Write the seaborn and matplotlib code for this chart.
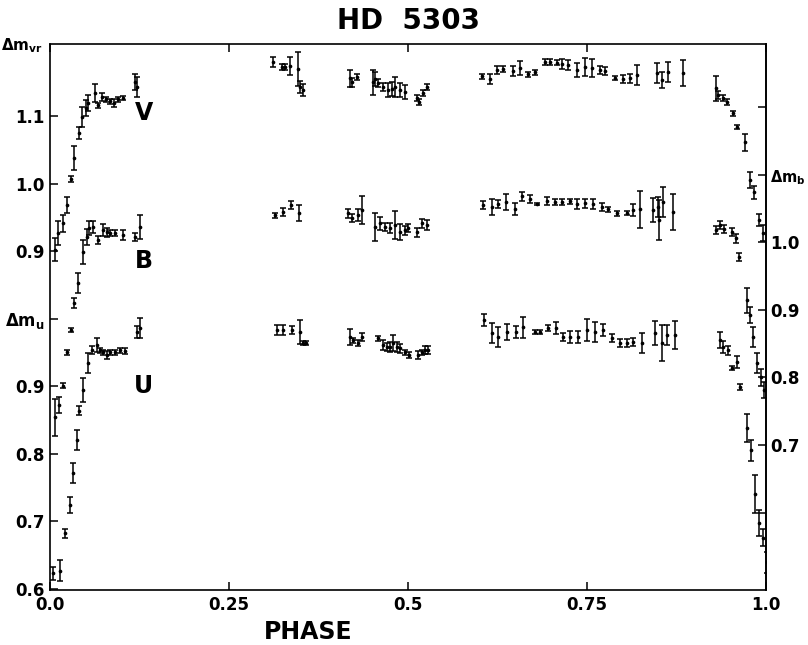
import numpy as np
import pandas as pd
import seaborn as sns
import matplotlib
matplotlib.use("Agg")
import matplotlib.pyplot as plt

# V band: phase, magnitude, error
v_phase = [0.007, 0.011, 0.018, 0.024, 0.029, 0.034, 0.041, 0.045, 0.050, 0.053,
           0.063, 0.067, 0.073, 0.078, 0.084, 0.089, 0.095, 0.102, 0.119, 0.122,
           0.311, 0.324, 0.328, 0.335, 0.346, 0.349, 0.353,
           0.419, 0.422, 0.429, 0.451, 0.454, 0.458, 0.465, 0.472, 0.478, 0.482,
           0.489, 0.496, 0.513, 0.515, 0.521, 0.527,
           0.603, 0.615, 0.624, 0.633, 0.647, 0.656, 0.668, 0.677, 0.691, 0.698,
           0.708, 0.715, 0.723, 0.736, 0.747, 0.757, 0.768, 0.775, 0.789, 0.800,
           0.810, 0.820, 0.848, 0.855, 0.863, 0.884,
           0.930, 0.933, 0.940, 0.946, 0.954, 0.959, 0.971, 0.978, 0.983, 0.990, 0.996]
v_mag = [0.902, 0.927, 0.941, 0.968, 1.007, 1.038, 1.075, 1.099, 1.112, 1.119,
         1.134, 1.116, 1.128, 1.125, 1.122, 1.119, 1.125, 1.127, 1.150, 1.143,
         1.180, 1.173, 1.173, 1.174, 1.170, 1.143, 1.139,
         1.156, 1.150, 1.158, 1.150, 1.155, 1.149, 1.143, 1.139, 1.140, 1.143,
         1.139, 1.136, 1.127, 1.121, 1.134, 1.143,
         1.159, 1.155, 1.168, 1.170, 1.167, 1.171, 1.162, 1.165, 1.180, 1.180,
         1.179, 1.177, 1.176, 1.168, 1.173, 1.171, 1.168, 1.167, 1.156, 1.155,
         1.156, 1.161, 1.164, 1.153, 1.165, 1.164,
         1.141, 1.131, 1.127, 1.121, 1.104, 1.084, 1.061, 1.005, 0.987, 0.946, 0.927]
v_err = [0.017, 0.018, 0.012, 0.012, 0.004, 0.018, 0.009, 0.015, 0.012, 0.012,
         0.013, 0.004, 0.006, 0.004, 0.004, 0.006, 0.004, 0.003, 0.012, 0.015,
         0.007, 0.004, 0.004, 0.013, 0.025, 0.009, 0.009,
         0.013, 0.007, 0.004, 0.019, 0.010, 0.006, 0.006, 0.010, 0.010, 0.015,
         0.010, 0.010, 0.004, 0.004, 0.004, 0.004,
         0.004, 0.007, 0.006, 0.004, 0.007, 0.010, 0.004, 0.004, 0.004, 0.004,
         0.004, 0.007, 0.007, 0.010, 0.013, 0.013, 0.006, 0.006, 0.003, 0.006,
         0.007, 0.015, 0.015, 0.012, 0.015, 0.019,
         0.018, 0.006, 0.004, 0.004, 0.004, 0.003, 0.012, 0.012, 0.009, 0.009, 0.012]

# B band
b_phase = [0.007, 0.013, 0.018, 0.024, 0.029, 0.034, 0.039, 0.046, 0.052, 0.054,
           0.060, 0.067, 0.074, 0.080, 0.084, 0.091, 0.102, 0.119, 0.126,
           0.314, 0.325, 0.337, 0.348,
           0.416, 0.422, 0.430, 0.436, 0.454, 0.461, 0.468, 0.475, 0.482, 0.489,
           0.496, 0.500, 0.513, 0.520, 0.527,
           0.605, 0.617, 0.626, 0.637, 0.649, 0.659, 0.670, 0.680, 0.694, 0.705,
           0.715, 0.726, 0.736, 0.747, 0.758, 0.771, 0.779, 0.792, 0.806, 0.814,
           0.824, 0.842, 0.849, 0.851, 0.856, 0.870,
           0.930, 0.936, 0.941, 0.953, 0.958, 0.962, 0.973, 0.977, 0.982, 0.987,
           0.993, 0.997]
b_mag = [0.741, 0.759, 0.788, 0.837, 0.870, 0.910, 0.940, 0.986, 1.008, 1.021,
         1.023, 1.003, 1.018, 1.015, 1.014, 1.014, 1.011, 1.008, 1.023,
         1.040, 1.045, 1.055, 1.043,
         1.043, 1.036, 1.040, 1.048, 1.023, 1.028, 1.023, 1.021, 1.026, 1.015,
         1.018, 1.021, 1.015, 1.028, 1.026,
         1.055, 1.052, 1.057, 1.060, 1.049, 1.068, 1.064, 1.057, 1.061, 1.060,
         1.060, 1.061, 1.057, 1.058, 1.057, 1.052, 1.049, 1.043, 1.043, 1.048,
         1.049, 1.048, 1.052, 1.033, 1.060, 1.045,
         1.018, 1.026, 1.020, 1.015, 1.006, 0.978, 0.914, 0.892, 0.860, 0.821,
         0.800, 0.781]
b_err = [0.027, 0.012, 0.004, 0.004, 0.003, 0.007, 0.015, 0.018, 0.012, 0.010,
         0.009, 0.006, 0.009, 0.007, 0.004, 0.004, 0.007, 0.006, 0.018,
         0.004, 0.006, 0.006, 0.012,
         0.007, 0.006, 0.009, 0.021, 0.021, 0.009, 0.006, 0.007, 0.021, 0.012,
         0.007, 0.006, 0.007, 0.007, 0.007,
         0.006, 0.012, 0.006, 0.012, 0.009, 0.006, 0.006, 0.002, 0.006, 0.004,
         0.004, 0.004, 0.007, 0.007, 0.007, 0.006, 0.004, 0.004, 0.003, 0.009,
         0.027, 0.018, 0.015, 0.030, 0.022, 0.027,
         0.006, 0.006, 0.006, 0.006, 0.007, 0.006, 0.018, 0.012, 0.015, 0.015,
         0.012, 0.012]

# U band
u_phase = [0.004, 0.014, 0.021, 0.028, 0.032, 0.038, 0.041, 0.046, 0.053, 0.059,
           0.066, 0.070, 0.074, 0.080, 0.084, 0.091, 0.098, 0.105, 0.122, 0.126,
           0.317, 0.325, 0.338, 0.349, 0.353, 0.358,
           0.419, 0.423, 0.430, 0.436, 0.458, 0.465, 0.471, 0.475, 0.479, 0.485,
           0.489, 0.496, 0.501, 0.514, 0.520, 0.524, 0.528,
           0.606, 0.617, 0.626, 0.638, 0.651, 0.661, 0.677, 0.684, 0.696, 0.707,
           0.717, 0.726, 0.737, 0.750, 0.761, 0.772, 0.785, 0.796, 0.806, 0.814,
           0.827, 0.845, 0.855, 0.862, 0.873,
           0.936, 0.940, 0.947, 0.953, 0.959, 0.964, 0.973, 0.979, 0.985, 0.990,
           0.996, 1.002]
u_mag = [0.623, 0.627, 0.682, 0.724, 0.771, 0.820, 0.864, 0.894, 0.934, 0.953,
         0.961, 0.953, 0.950, 0.946, 0.950, 0.950, 0.953, 0.952, 0.980, 0.986,
         0.983, 0.983, 0.983, 0.980, 0.964, 0.964,
         0.973, 0.968, 0.964, 0.973, 0.971, 0.961, 0.958, 0.958, 0.964, 0.958,
         0.956, 0.950, 0.946, 0.946, 0.950, 0.953, 0.953,
         0.998, 0.979, 0.973, 0.980, 0.980, 0.987, 0.981, 0.980, 0.986, 0.986,
         0.973, 0.973, 0.973, 0.983, 0.980, 0.983, 0.971, 0.964, 0.964, 0.965,
         0.964, 0.979, 0.964, 0.976, 0.976,
         0.968, 0.958, 0.953, 0.927, 0.936, 0.899, 0.838, 0.805, 0.740, 0.697,
         0.676, 0.639]
u_err = [0.010, 0.015, 0.007, 0.012, 0.015, 0.015, 0.007, 0.018, 0.015, 0.006,
         0.010, 0.004, 0.004, 0.006, 0.004, 0.004, 0.004, 0.004, 0.009, 0.015,
         0.007, 0.007, 0.006, 0.018, 0.003, 0.003,
         0.012, 0.004, 0.004, 0.006, 0.004, 0.007, 0.006, 0.007, 0.012, 0.007,
         0.007, 0.004, 0.004, 0.006, 0.004, 0.006, 0.006,
         0.009, 0.015, 0.015, 0.012, 0.009, 0.015, 0.003, 0.003, 0.004, 0.009,
         0.006, 0.009, 0.009, 0.016, 0.015, 0.009, 0.006, 0.006, 0.006, 0.006,
         0.015, 0.018, 0.027, 0.015, 0.021,
         0.012, 0.009, 0.007, 0.003, 0.009, 0.004, 0.021, 0.015, 0.028, 0.019,
         0.013, 0.015]

# vertical shift of each band relative to the left (V) scale
b_shift = 0.087
u_shift = 0.2

df = pd.concat([
    pd.DataFrame({"phase": v_phase, "mag": v_mag, "err": v_err, "band": "V", "y": np.array(v_mag)}),
    pd.DataFrame({"phase": b_phase, "mag": b_mag, "err": b_err, "band": "B", "y": np.array(b_mag) - b_shift}),
    pd.DataFrame({"phase": u_phase, "mag": u_mag, "err": u_err, "band": "U", "y": np.array(u_mag) - u_shift}),
])

sns.set_style("ticks")
plt.rcParams["font.family"] = ["DejaVu Sans"]
plt.rcParams["font.weight"] = "bold"
plt.rcParams["text.color"] = "black"
plt.rcParams["xtick.color"] = "black"
plt.rcParams["ytick.color"] = "black"
plt.rcParams["axes.edgecolor"] = "black"

fig = plt.figure(figsize=(8.08, 6.45), dpi=100)
ax = fig.add_axes([0.062, 0.085, 0.886, 0.847])

ax.errorbar(df["phase"], df["y"], yerr=df["err"], fmt="none", ecolor="black",
            elinewidth=1.1, capsize=2.3, capthick=1.1)
sns.scatterplot(data=df, x="phase", y="y", color="black", s=7, linewidth=0,
                legend=False, ax=ax)

ax.set_xlim(0, 1)
ax.set_ylim(0.398, 1.207)
ax.set_xlabel("")
ax.set_ylabel("")

for s in ax.spines.values():
    s.set_visible(True)
    s.set_linewidth(1.2)
    s.set_color("black")

ax.set_xticks([0, 0.25, 0.5, 0.75, 1.0], labels=["0.0", "0.25", "0.5", "0.75", "1.0"])
ax.set_yticks([1.1, 1.0, 0.9, 0.8, 0.7, 0.6, 0.5, 0.4],
              labels=["1.1", "1.0", "0.9", r"$\Delta$m$_\mathregular{u}$", "0.9", "0.8", "0.7", "0.6"])
ax.tick_params(axis="both", direction="in", length=6, width=1.1, labelsize=12,
               pad=4, top=True, right=False, colors="black")
for lab in ax.get_xticklabels() + ax.get_yticklabels():
    lab.set_fontweight("bold")
    lab.set_color("black")

sec = ax.secondary_yaxis("right", functions=(lambda v: v + b_shift, lambda b: b - b_shift))
sec.set_yticks([1.2, 1.1, 1.0, 0.9, 0.8, 0.7, 0.6],
               labels=["", r"$\Delta$m$_\mathregular{b}$", "1.0", "0.9", "0.8", "0.7", ""])
sec.tick_params(direction="in", length=6, width=1.1, labelsize=12, pad=3, colors="black")
for lab in sec.get_yticklabels():
    lab.set_fontweight("bold")
    lab.set_color("black")
sec.get_yticklabels()[1].set_fontsize(10.5)
sec.spines["right"].set_linewidth(1.2)
sec.spines["right"].set_color("black")

for name, yy in [("V", 1.104), ("B", 0.885), ("U", 0.701)]:
    ax.text(0.131, yy, name, fontsize=17, fontweight="bold", ha="center", va="center", color="black")

fig.text(0.027, 0.929, r"$\Delta$m$_\mathregular{vr}$", fontsize=11, fontweight="bold",
         ha="center", va="center")
fig.text(0.505, 0.968, "HD  5303", fontsize=20, fontweight="bold", ha="center", va="center")
fig.text(0.381, 0.02, "PHASE", fontsize=17, fontweight="bold", ha="center", va="center")

fig.savefig("out.png", dpi=100)
